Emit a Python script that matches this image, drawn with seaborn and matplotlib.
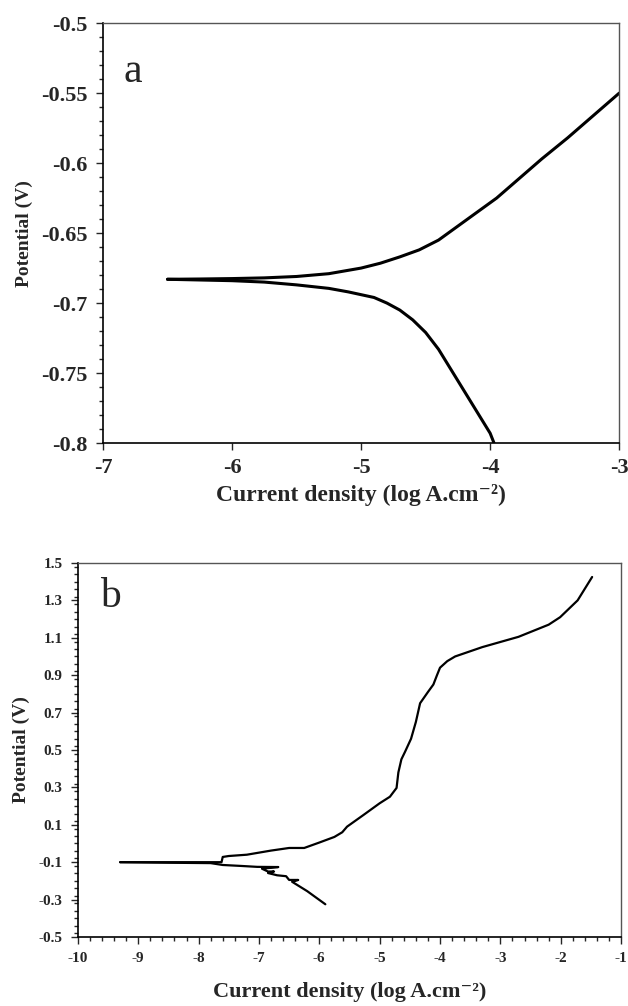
import pandas as pd
import matplotlib
matplotlib.use("Agg")
import matplotlib.pyplot as plt
from matplotlib.ticker import MultipleLocator
import seaborn as sns

# -----------------------
# DATA
# -----------------------
# panel a - Tafel curve
a_anodic_x = [-6.5, -6.25, -6.0, -5.75, -5.5, -5.25, -5.0, -4.85, -4.7, -4.55, -4.4, -4.25,
              -4.1, -3.95, -3.8, -3.6, -3.4, -3.2, -3.0]
a_anodic_y = [-0.683, -0.6828, -0.6825, -0.682, -0.681, -0.679, -0.675, -0.6715, -0.667, -0.662,
              -0.655, -0.645, -0.635, -0.625, -0.613, -0.597, -0.582, -0.566, -0.550]
a_cathodic_x = [-6.5, -6.25, -6.0, -5.75, -5.5, -5.25, -5.1, -5.0, -4.9, -4.8, -4.7, -4.6,
                -4.5, -4.4, -4.3, -4.2, -4.1, -4.0, -3.97]
a_cathodic_y = [-0.683, -0.6835, -0.684, -0.685, -0.687, -0.6895, -0.692, -0.694, -0.696, -0.700,
                -0.705, -0.712, -0.721, -0.733, -0.748, -0.763, -0.778, -0.793, -0.800]

# panel b - potentiodynamic curve
b_anodic_x = [-9.30, -8.0, -7.62, -7.60, -7.5, -7.2, -6.8, -6.5, -6.25, -6.0, -5.75, -5.62, -5.54,
              -5.27, -5.0, -4.83, -4.72, -4.69, -4.64, -4.58, -4.48, -4.40, -4.33, -4.20, -4.11,
              -4.05, -4.00, -3.88, -3.75, -3.3, -2.7, -2.2, -2.01, -1.72, -1.48]
b_anodic_y = [-0.100, -0.100, -0.100, -0.072, -0.067, -0.060, -0.038, -0.024, -0.024, 0.005, 0.035,
              0.060, 0.090, 0.152, 0.215, 0.250, 0.297, 0.380, 0.450, 0.490, 0.560, 0.650, 0.750,
              0.810, 0.850, 0.900, 0.940, 0.975, 1.000, 1.050, 1.105, 1.170, 1.210, 1.300, 1.425]
b_cathodic_x = [-9.30, -8.5, -7.8, -7.6, -7.3, -7.03, -6.68, -6.95, -6.85, -6.75, -6.85, -6.7,
                -6.55, -6.5, -6.35, -6.45, -6.35, -6.2, -6.05, -5.9]
b_cathodic_y = [-0.100, -0.103, -0.105, -0.115, -0.120, -0.125, -0.126, -0.135, -0.150, -0.150,
                -0.158, -0.170, -0.175, -0.195, -0.195, -0.205, -0.225, -0.255, -0.290, -0.325]

a_xticks = [-7, -6, -5, -4, -3]
a_yticks = [-0.8, -0.75, -0.7, -0.65, -0.6, -0.55, -0.5]
b_xticks = [-10, -9, -8, -7, -6, -5, -4, -3, -2, -1]
b_yticks = [-0.5, -0.3, -0.1, 0.1, 0.3, 0.5, 0.7, 0.9, 1.1, 1.3, 1.5]

df_a = pd.concat([
    pd.DataFrame({"x": a_anodic_x, "y": a_anodic_y, "branch": "anodic"}),
    pd.DataFrame({"x": a_cathodic_x, "y": a_cathodic_y, "branch": "cathodic"}),
])
df_b = pd.concat([
    pd.DataFrame({"x": b_anodic_x, "y": b_anodic_y, "branch": "anodic"}),
    pd.DataFrame({"x": b_cathodic_x, "y": b_cathodic_y, "branch": "cathodic"}),
])

# -----------------------
# STYLE
# -----------------------
sns.set_style("ticks")
plt.rcParams["font.family"] = ["Liberation Serif", "DejaVu Serif"]

fig = plt.figure(figsize=(6.28, 10.06), dpi=100)
ax_a = fig.add_axes([0.164, 0.5596, 0.822, 0.4174])
ax_b = fig.add_axes([0.124, 0.0686, 0.865, 0.3718])

pal = {"anodic": "black", "cathodic": "black"}
xlabel = "Current density (log A.cm\u207b\u00b2)"

# -----------------------
# PANEL A
# -----------------------
sns.lineplot(data=df_a, x="x", y="y", hue="branch", units="branch", estimator=None,
             sort=False, palette=pal, linewidth=2.2, legend=False, ax=ax_a)
ax_a.set_xlim(-7, -3)
ax_a.set_ylim(-0.8, -0.5)
ax_a.set_xticks(a_xticks)
ax_a.set_xticklabels([f"{v:g}" for v in a_xticks])
ax_a.set_yticks(a_yticks)
ax_a.set_yticklabels([f"{v:g}" for v in a_yticks])
ax_a.yaxis.set_minor_locator(MultipleLocator(0.01))
ax_a.tick_params(axis="both", which="major", labelsize=16, length=5, width=1, pad=6)
ax_a.tick_params(axis="y", which="minor", length=3, width=1)
for lbl in ax_a.get_xticklabels() + ax_a.get_yticklabels():
    lbl.set_fontweight("bold")
ax_a.set_xlabel(xlabel, fontsize=17, fontweight="bold", labelpad=4)
ax_a.set_ylabel("Potential (V)", fontsize=14, fontweight="bold", labelpad=6)
ax_a.text(0.04, 0.93, "a", transform=ax_a.transAxes, fontsize=30, va="top", ha="left")

# -----------------------
# PANEL B
# -----------------------
sns.lineplot(data=df_b, x="x", y="y", hue="branch", units="branch", estimator=None,
             sort=False, palette=pal, linewidth=1.6, legend=False, ax=ax_b)
ax_b.set_xlim(-10, -1)
ax_b.set_ylim(-0.5, 1.5)
ax_b.set_xticks(b_xticks)
ax_b.set_xticklabels([f"{v:g}" for v in b_xticks])
ax_b.set_yticks(b_yticks)
ax_b.set_yticklabels([f"{v:g}" for v in b_yticks])
ax_b.xaxis.set_minor_locator(MultipleLocator(0.2))
ax_b.yaxis.set_minor_locator(MultipleLocator(0.04))
ax_b.tick_params(axis="both", which="major", labelsize=11, length=5, width=1, pad=6)
ax_b.tick_params(axis="both", which="minor", length=3, width=1)
for lbl in ax_b.get_xticklabels() + ax_b.get_yticklabels():
    lbl.set_fontweight("bold")
ax_b.set_xlabel(xlabel, fontsize=16, fontweight="bold", labelpad=12)
ax_b.set_ylabel("Potential (V)", fontsize=14, fontweight="bold", labelpad=6)
ax_b.text(0.04, 0.96, "b", transform=ax_b.transAxes, fontsize=30, va="top", ha="left")

for ax in (ax_a, ax_b):
    for side in ("left", "bottom"):
        ax.spines[side].set_color("black")
        ax.spines[side].set_linewidth(1.2)
    for side in ("top", "right"):
        ax.spines[side].set_color("#555555")
        ax.spines[side].set_linewidth(1.0)

fig.savefig("out.png", dpi=100)
